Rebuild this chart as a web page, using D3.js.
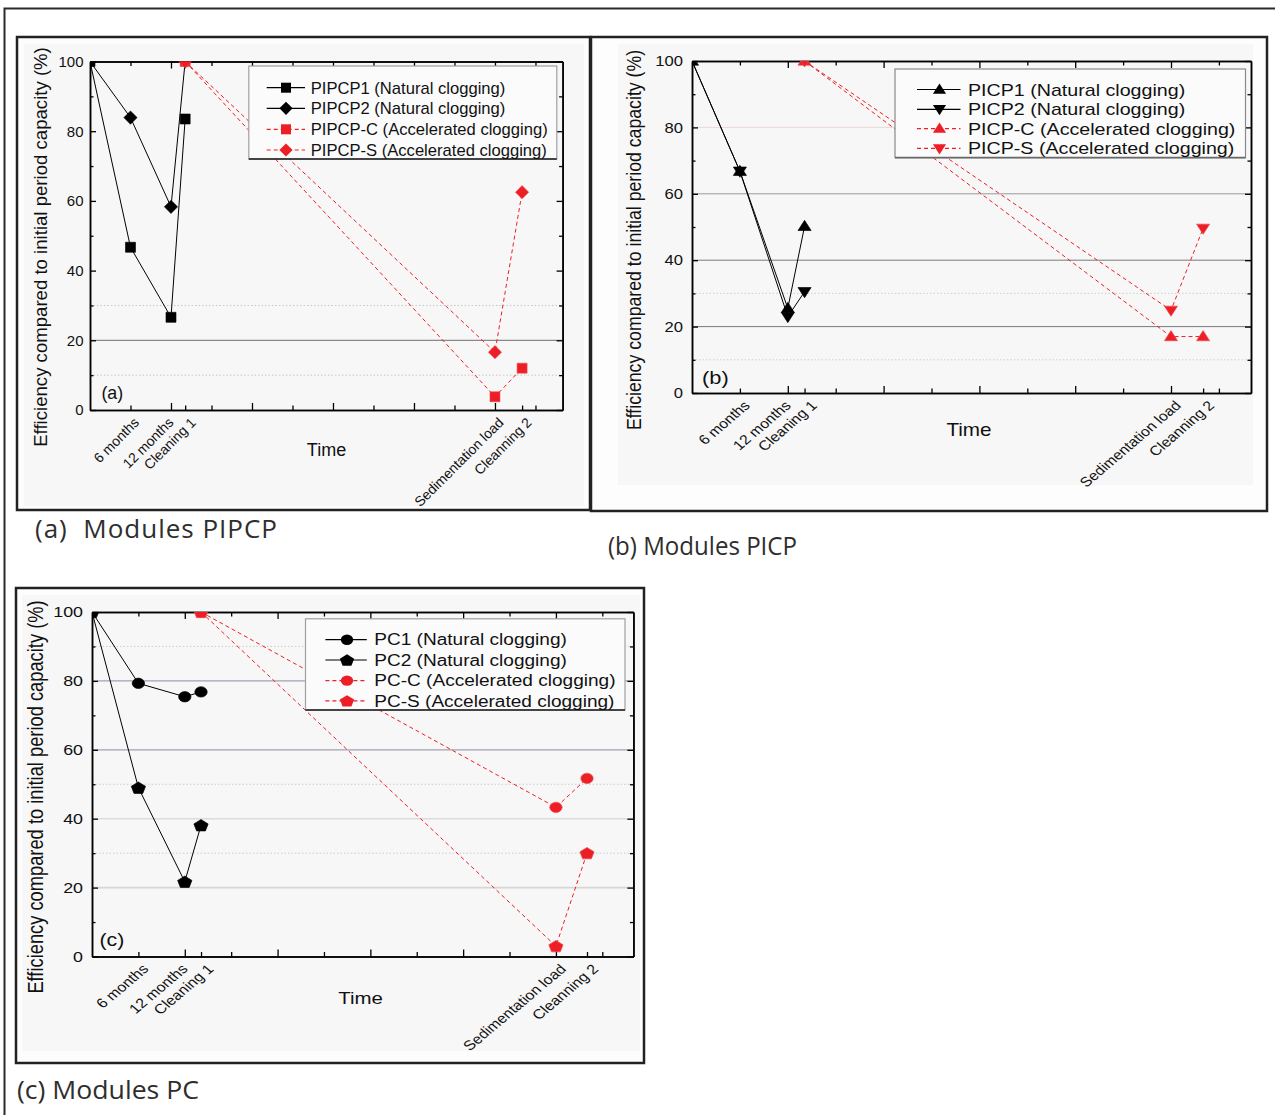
<!DOCTYPE html>
<html>
<head>
<meta charset="utf-8">
<script src="https://cdn.jsdelivr.net/npm/d3@7"></script>
<style>
  html, body { margin: 0; padding: 0; background: #fff; }
  svg { display: block; }
</style>
</head>
<body>
<svg id="fig" width="1275" height="1115"></svg>
<script>
// ---- Time axis: measurement stages -------------------------------------
const stageLabels = ["6 months", "12 months", "Cleaning 1", "Sedimentation load", "Cleanning 2"];
const stagePositions = [1, 2, 2.35, 10, 10.67];
const naturalX = [0, 1, 2, 2.35];        // start, 6 months, 12 months, cleaning 1
const acceleratedX = [2.35, 10, 10.67];  // cleaning 1, sedimentation load, cleaning 2
const yMajorTicks = [0, 20, 40, 60, 80, 100];
const yMinorTicks = [10, 30, 50, 70, 90];
const xMajorTicks = [2, 4, 6, 8, 10];
const xMinorTicks = [1, 3, 5, 7, 9, 11];

// ---- (a) PIPCP modules -------------------------------------------------
const pipcpNames = ["PIPCP1 (Natural clogging)", "PIPCP2 (Natural clogging)",
                    "PIPCP-C (Accelerated clogging)", "PIPCP-S (Accelerated clogging)"];
const pipcp1 = [100, 46.7, 26.6, 83.5];
const pipcp2 = [100, 83.9, 58.3, 100];
const pipcpC = [100, 3.8, 12.0];
const pipcpS = [100, 16.6, 62.5];

// ---- (b) PICP modules --------------------------------------------------
const picpNames = ["PICP1 (Natural clogging)", "PICP2 (Natural clogging)",
                   "PICP-C (Accelerated clogging)", "PICP-S (Accelerated clogging)"];
const picp1 = [100, 66.8, 25.5, 50.2];
const picp2 = [100, 66.8, 23.0, 30.5];
const picpC = [100, 17.0, 17.0];
const picpS = [100, 24.9, 49.6];

// ---- (c) PC modules ----------------------------------------------------
const pcNames = ["PC1 (Natural clogging)", "PC2 (Natural clogging)",
                 "PC-C (Accelerated clogging)", "PC-S (Accelerated clogging)"];
const pc1 = [100, 79.3, 75.4, 76.8];
const pc2 = [100, 49.0, 21.7, 38.1];
const pcC = [100, 43.3, 51.7];
const pcS = [100, 3.0, 30.0];

const panelLetters = ["(a)", "(b)", "(c)"];
const captions = ["(a)  Modules PIPCP", "(b) Modules PICP", "(c) Modules PC"];
const yTitle = "Efficiency compared to initial period capacity (%)";
const xTitle = "Time";

// ---- Styling ------------------------------------------------------------
const RED = "#ed1f26";
const INK = "#111";
// small horizontal nudges of the rotated stage labels (px)
const stageLabelNudge = [0, -6, 2, 0, 1];

const panels = [
  {
    frame: [17, 37, 590, 510], image: [24, 44, 584, 506],
    plot: [90, 61.5, 562.6, 410], sx: 1,
    names: pipcpNames, values: [pipcp1, pipcp2, pipcpC, pipcpS],
    symbols: ["square", "diamond", "square", "diamond"],
    font: { tick: 15, legend: 16.6, title: 18.6, time: 18, cat: 13.9, letter: 17.8 },
    tickGap: 6.5, titleX: 40, titleY: 247, timeX: 326.5, timeY: 450,
    letterX: 101.4, letterY: 392.5,
    legend: { box: [248.8, 66, 556.8, 159], rows: [87.7, 108.3, 129.3, 150],
              line: [266.7, 305], mark: 286, text: 310.7,
              edge: "#a0a0a0", bottom: "#1a1a1a" },
    grid: [
      { v: 20, c: "#6e6e6e", w: 1 },
      { v: 10, c: "#c6c6c6", w: 1, dash: "1.5,2" },
      { v: 30, c: "#c6c6c6", w: 1, dash: "1.5,2" }
    ]
  },
  {
    frame: [591, 37, 1267, 511], image: [618, 44, 1253, 485],
    plot: [692, 61, 1251, 393], sx: 1.17,
    names: picpNames, values: [picp1, picp2, picpC, picpS],
    symbols: ["triUp", "triDown", "triUp", "triDown"],
    font: { tick: 14.2, legend: 16.8, title: 17.7, time: 17.7, cat: 13.5, letter: 18.7 },
    tickGap: 9, titleX: 633.7, titleY: 240, timeX: 969, timeY: 430,
    letterX: 702, letterY: 377.6,
    legend: { box: [895, 69, 1245.5, 157.6], rows: [89.5, 109.3, 128.6, 148.4],
              line: [917, 960.5], mark: 939.5, text: 968,
              edge: "#8a8a8a", bottom: "#6a6a6a" },
    grid: [
      { v: 80, c: "#efd6d6", w: 1 },
      { v: 60, c: "#9a9a9a", w: 1 },
      { v: 40, c: "#7a7a7a", w: 1 },
      { v: 20, c: "#7a7a7a", w: 1 },
      { v: 30, c: "#cfcfcf", w: 1, dash: "1.5,2" },
      { v: 10, c: "#cfcfcf", w: 1, dash: "1.5,2" }
    ]
  },
  {
    frame: [16, 588, 644, 1063], image: [22, 595, 640, 1051],
    plot: [92, 612, 633.4, 956.5], sx: 1.19,
    names: pcNames, values: [pc1, pc2, pcC, pcS],
    symbols: ["circle", "pentagon", "circle", "pentagon"],
    font: { tick: 15, legend: 16, title: 18.3, time: 17.2, cat: 13.5, letter: 17.9 },
    tickGap: 9, titleX: 35.2, titleY: 797, timeX: 360.6, timeY: 998,
    letterX: 99.5, letterY: 939.7,
    legend: { box: [305.5, 618.8, 625, 710], rows: [639.7, 660, 680.6, 700.9],
              line: [325.4, 366.8], mark: 347, text: 374.3,
              edge: "#a0a0a0", bottom: "#1a1a1a" },
    grid: [
      { v: 80, c: "#a2a2b2", w: 1.2 },
      { v: 60, c: "#a2a2b2", w: 1.2 },
      { v: 40, c: "#dcdcdc", w: 1.6 },
      { v: 20, c: "#d6d6d6", w: 1.6 },
      { v: 90, c: "#cccccc", w: 1, dash: "1.5,2" },
      { v: 50, c: "#cccccc", w: 1, dash: "1.5,2" },
      { v: 30, c: "#cccccc", w: 1, dash: "1.5,2" }
    ]
  }
];

// ---- Marker shapes (centred on 0,0) -------------------------------------
function markerPath(type) {
  switch (type) {
    case "square": return "M-5,-5H5V5H-5Z";
    case "diamond": return "M0,-6.6L6.6,0L0,6.6L-6.6,0Z";
    case "triUp": return "M0,-6L5.6,4.2L-5.6,4.2Z";
    case "triDown": return "M0,6L5.6,-4.2L-5.6,-4.2Z";
    case "circle": return d3.symbol().type(d3.symbolCircle).size(Math.PI * 5.2 * 5.2)();
    case "pentagon": {
      const r = 6.3;
      const pts = d3.range(5).map(k => {
        const a = -Math.PI / 2 + k * 2 * Math.PI / 5;
        return [r * Math.cos(a), r * Math.sin(a) + 0.6];
      });
      return "M" + pts.map(p => p.join(",")).join("L") + "Z";
    }
  }
}

const svg = d3.select("#fig");

// Outer frame of the figure
svg.append("path")
  .attr("d", "M4.5,1115V8.5H1275")
  .attr("fill", "none").attr("stroke", "#2b2b2b").attr("stroke-width", 2);

panels.forEach((p, i) => {
  const g = svg.append("g");
  const [fx0, fy0, fx1, fy1] = p.frame;
  const [px0, py0, px1, py1] = p.plot;
  const sx = p.sx;

  // frame and light image background
  g.append("rect").attr("x", fx0).attr("y", fy0)
    .attr("width", fx1 - fx0).attr("height", fy1 - fy0)
    .attr("fill", "#fdfdfd").attr("stroke", "#222").attr("stroke-width", 2.5);
  g.append("rect").attr("x", p.image[0]).attr("y", p.image[1])
    .attr("width", p.image[2] - p.image[0]).attr("height", p.image[3] - p.image[1])
    .attr("fill", "#f7f7f7");

  const x = d3.scaleLinear().domain([0, 11.67]).range([px0, px1]);
  const y = d3.scaleLinear().domain([0, 100]).range([py1, py0]);

  // gridlines
  p.grid.forEach(gl => {
    g.append("line")
      .attr("x1", px0).attr("x2", px1).attr("y1", y(gl.v)).attr("y2", y(gl.v))
      .attr("stroke", gl.c).attr("stroke-width", gl.w)
      .attr("stroke-dasharray", gl.dash || null);
  });

  // axes (ticks point inward)
  const axisStyle = sel => {
    sel.selectAll("path.domain").attr("stroke", "#000").attr("stroke-width", 1.5);
    sel.selectAll(".tick line").attr("stroke", "#000").attr("stroke-width", 1.3);
    sel.selectAll("text").remove();
  };
  const addAxis = (gen, tx, ty) => g.append("g")
    .attr("transform", `translate(${tx},${ty})`).call(gen).call(axisStyle);

  addAxis(d3.axisLeft(y).tickValues(yMajorTicks).tickSize(-6).tickSizeOuter(0), px0, 0);
  addAxis(d3.axisLeft(y).tickValues(yMinorTicks).tickSize(-3.5).tickSizeOuter(0), px0, 0);
  addAxis(d3.axisRight(y).tickValues(yMajorTicks).tickSize(-6).tickSizeOuter(0), px1, 0);
  addAxis(d3.axisRight(y).tickValues(yMinorTicks).tickSize(-3.5).tickSizeOuter(0), px1, 0);
  addAxis(d3.axisBottom(x).tickValues(xMajorTicks).tickSize(-7).tickSizeOuter(0), 0, py1);
  addAxis(d3.axisBottom(x).tickValues(xMinorTicks.concat([stagePositions[2], stagePositions[4]]))
    .tickSize(-4.5).tickSizeOuter(0), 0, py1);
  addAxis(d3.axisTop(x).tickValues(xMajorTicks).tickSize(-7).tickSizeOuter(0), 0, py0);
  addAxis(d3.axisTop(x).tickValues(xMinorTicks).tickSize(-4.5).tickSizeOuter(0), 0, py0);

  // y tick labels
  g.selectAll(null).data(yMajorTicks).join("text")
    .attr("transform", d => `translate(${px0 - p.tickGap},${y(d)}) scale(${sx},1)`)
    .attr("text-anchor", "end").attr("dy", "0.36em")
    .attr("font-family", "'Liberation Sans', Arial, sans-serif")
    .attr("font-size", p.font.tick).attr("fill", INK)
    .text(d => d);

  // stage labels under the time axis
  g.selectAll(null).data(stageLabels).join("text")
    .attr("transform", (d, k) =>
      `translate(${x(stagePositions[k]) + (6 + stageLabelNudge[k]) * sx},${py1 + 10}) scale(${sx},1) rotate(-45)`)
    .attr("text-anchor", "end").attr("dy", "0.35em")
    .attr("font-family", "'Liberation Sans', Arial, sans-serif")
    .attr("font-size", p.font.cat).attr("fill", INK)
    .text(d => d);

  // axis titles
  g.append("text")
    .attr("transform", `translate(${p.titleX},${p.titleY}) scale(${sx},1) rotate(-90)`)
    .attr("text-anchor", "middle").attr("dy", "0.35em")
    .attr("font-family", "'Liberation Sans', Arial, sans-serif")
    .attr("font-size", p.font.title).attr("fill", INK)
    .text(yTitle);
  g.append("text")
    .attr("transform", `translate(${p.timeX},${p.timeY}) scale(${sx},1)`)
    .attr("text-anchor", "middle").attr("dy", "0.35em")
    .attr("font-family", "'Liberation Sans', Arial, sans-serif")
    .attr("font-size", p.font.time).attr("fill", INK)
    .text(xTitle);

  // panel letter
  g.append("text")
    .attr("transform", `translate(${p.letterX},${p.letterY}) scale(${sx},1)`)
    .attr("dy", "0.35em")
    .attr("font-family", "'Liberation Sans', Arial, sans-serif")
    .attr("font-size", p.font.letter).attr("fill", INK)
    .text(panelLetters[i]);

  // data: clipped to the plotting area
  const clipId = "clip" + i;
  g.append("clipPath").attr("id", clipId)
    .append("rect").attr("x", px0).attr("y", py0)
    .attr("width", px1 - px0).attr("height", py1 - py0);
  const data = g.append("g").attr("clip-path", `url(#${clipId})`);

  const line = d3.line().x(d => x(d[0])).y(d => y(d[1]));
  p.values.forEach((vals, k) => {
    const natural = k < 2;
    const xs = natural ? naturalX : acceleratedX;
    const pts = vals.map((v, j) => [xs[j], v]);
    const sg = data.append("g");
    sg.append("path").attr("d", line(pts))
      .attr("fill", "none")
      .attr("stroke", natural ? "#000" : RED)
      .attr("stroke-width", 1)
      .attr("stroke-dasharray", natural ? null : "4,3");
    sg.selectAll(null).data(pts).join("path")
      .attr("d", markerPath(p.symbols[k]))
      .attr("transform", d => `translate(${x(d[0])},${y(d[1])}) scale(${sx},1)`)
      .attr("fill", natural ? "#000" : RED)
      .attr("stroke", natural ? "#000" : "#f04a50").attr("stroke-width", 0.6);
  });

  // legend
  const L = p.legend;
  const lg = g.append("g");
  lg.append("rect").attr("x", L.box[0]).attr("y", L.box[1])
    .attr("width", L.box[2] - L.box[0]).attr("height", L.box[3] - L.box[1])
    .attr("fill", "#fbfbfb").attr("stroke", L.edge).attr("stroke-width", 1.2);
  lg.append("line").attr("x1", L.box[0]).attr("x2", L.box[2])
    .attr("y1", L.box[3]).attr("y2", L.box[3])
    .attr("stroke", L.bottom).attr("stroke-width", 1.6);
  p.names.forEach((name, k) => {
    const natural = k < 2;
    const ry = L.rows[k];
    lg.append("line").attr("x1", L.line[0]).attr("x2", L.line[1])
      .attr("y1", ry).attr("y2", ry)
      .attr("stroke", natural ? "#000" : RED).attr("stroke-width", 1.2)
      .attr("stroke-dasharray", natural ? null : "4,3");
    lg.append("path").attr("d", markerPath(p.symbols[k]))
      .attr("transform", `translate(${L.mark},${ry}) scale(${sx},1)`)
      .attr("fill", natural ? "#000" : RED);
    lg.append("text")
      .attr("transform", `translate(${L.text},${ry}) scale(${sx},1)`)
      .attr("dy", "0.36em")
      .attr("font-family", "'Liberation Sans', Arial, sans-serif")
      .attr("font-size", p.font.legend).attr("fill", INK)
      .text(name);
  });
});

// ---- Captions under each panel ------------------------------------------
const captionStyle = [
  { x: 35, y: 537.5, size: 26, len: 242, adjust: "spacing" },
  { x: 608, y: 554.5, size: 25, len: 189, adjust: "spacingAndGlyphs" },
  { x: 17, y: 1098.5, size: 26, len: 182, adjust: "spacingAndGlyphs" }
];
captions.forEach((c, i) => {
  const s = captionStyle[i];
  svg.append("text")
    .attr("x", s.x).attr("y", s.y)
    .attr("font-family", "'Open Sans', 'Noto Sans', sans-serif")
    .attr("font-size", s.size).attr("fill", "#2e2e2e")
    .attr("textLength", s.len).attr("lengthAdjust", s.adjust)
    .style("white-space", "pre")
    .text(c);
});
</script>
</body>
</html>
